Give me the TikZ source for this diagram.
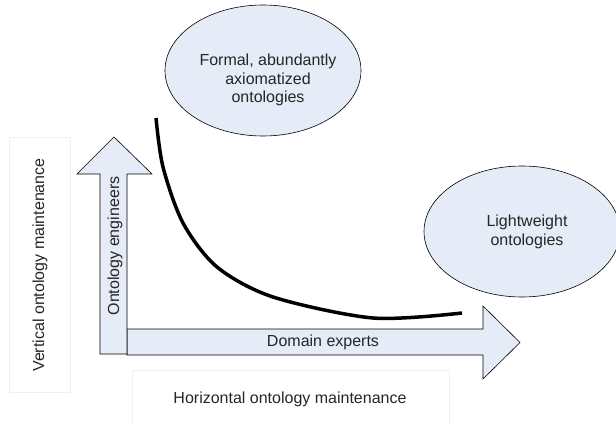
\documentclass[tikz,border=0pt]{standalone}
\usepackage{fontspec}
\setmainfont{Liberation Sans}
\usepackage{tikz}
\usetikzlibrary{shapes.geometric}
\definecolor{paleblue}{RGB}{229,236,247}

\begin{document}
\begin{tikzpicture}[x=1pt, y=-1pt]
	\tikzstyle{every node} = [font=\fontsize{16}{18.4}\selectfont, text=black!85]
	\tikzstyle{bubble} = [ellipse, draw, fill=paleblue, line width=0.6pt, minimum width=196pt, minimum height=131pt]
	\tikzstyle{blockarrow} = [draw, fill=paleblue, line width=0.6pt, line join=miter]
	\tikzstyle{caption} = [draw=black!6, line width=0.6pt]
	\useasboundingbox (0,0) rectangle (616,425);
	% caption boxes
	\draw [caption] (9,137) rectangle (70,392);
	\draw [caption] (132,370) rectangle (449,432);
	\node [rotate=90] (vert) at (40,265) {Vertical ontology maintenance};
	\node (horiz) at (290,399) {Horizontal ontology maintenance};
	% ellipses
	\node [bubble] (formal) at (263,70.5) {};
	\node [align=center] (formaltext) at (268,80) {Formal, abundantly\\axiomatized\\ontologies};
	\node [bubble] (light) at (522,231.5) {};
	\node [align=center] (lighttext) at (527,232) {Lightweight\\ontologies};
	% block arrows
	\draw [blockarrow] (127,329) -- (483,329) -- (483,306) -- (520,342.5) -- (483,379) -- (483,355) -- (127,355) -- cycle;
	\draw [blockarrow] (100,354) -- (100,174) -- (77,174) -- (114,137) -- (152,174) -- (127,174) -- (127,354) -- cycle;
	\node (dom) at (323,342) {Domain experts};
	\node [rotate=90] (eng) at (115,246) {Ontology engineers};
	% trade-off curve
	\draw [line width=3.5pt] plot [smooth] coordinates {(156,118) (163,167) (183,223) (217,267) (273,297) (373,318) (462,313)};
\end{tikzpicture}
\end{document}
